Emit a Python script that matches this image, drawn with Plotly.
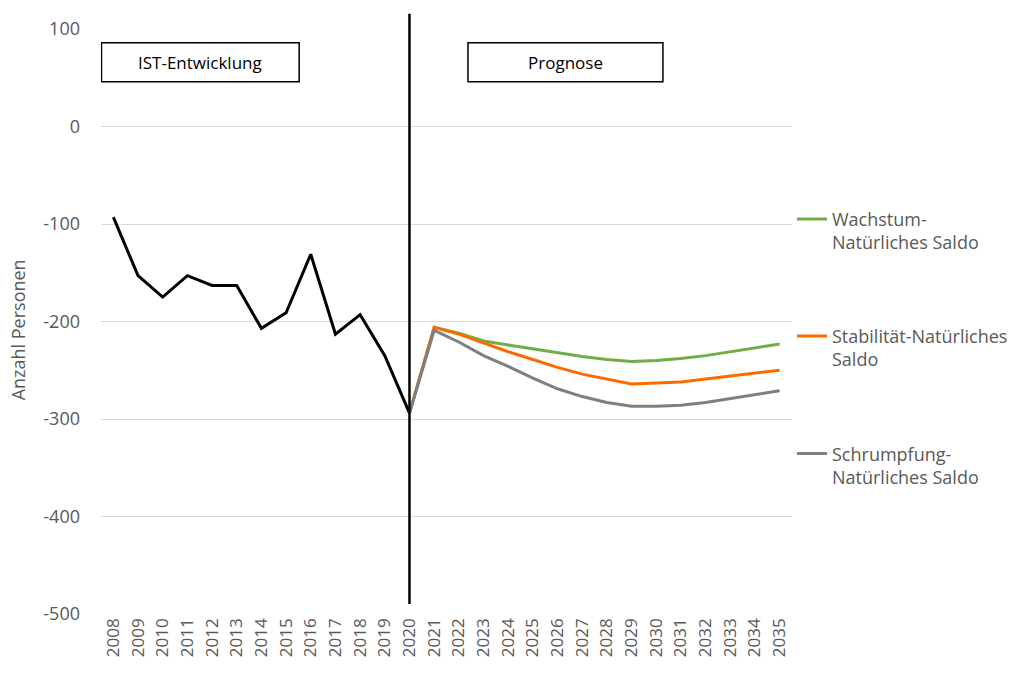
import plotly.graph_objects as go

# Historic natural balance (births minus deaths)
years_hist = [2008, 2009, 2010, 2011, 2012, 2013, 2014, 2015, 2016, 2017, 2018, 2019, 2020]
saldo_hist = [-93, -153, -175, -153, -163, -163, -207, -191, -131, -213, -193, -235, -294]

# Forecast scenarios, starting from the last observed year
years_prog = list(range(2020, 2036))
wachstum = [-294, -206, -212, -220, -224, -228, -232, -236, -239, -241, -240, -238, -235, -231, -227, -223]
stabilitaet = [-294, -206, -213, -222, -231, -239, -247, -254, -259, -264, -263, -262, -259, -256, -253, -250]
schrumpfung = [-294, -209, -221, -235, -246, -258, -269, -277, -283, -287, -287, -286, -283, -279, -275, -271]

all_years = list(range(2008, 2036))
y_ticks = [100, 0, -100, -200, -300, -400, -500]
y_ticktext = ["100", "0", "-100", "-200", "-300", "-400", "-500"]

FONT = "Open Sans"
GREY_TXT = "#595959"

fig = go.Figure()

fig.add_trace(go.Scatter(
    x=years_hist, y=saldo_hist, mode="lines",
    line=dict(color="#000000", width=3), showlegend=False, hoverinfo="skip",
))
fig.add_trace(go.Scatter(
    x=years_prog, y=wachstum, mode="lines", name="Wachstum-<br>Natürliches Saldo",
    line=dict(color="#70AD47", width=3), legend="legend",
))
fig.add_trace(go.Scatter(
    x=years_prog, y=stabilitaet, mode="lines", name="Stabilität-Natürliches<br>Saldo",
    line=dict(color="#FF6A00", width=3), legend="legend2",
))
fig.add_trace(go.Scatter(
    x=years_prog, y=schrumpfung, mode="lines", name="Schrumpfung-<br>Natürliches Saldo",
    line=dict(color="#7F7F7F", width=3), legend="legend3",
))

# Divider between observed and forecast period
fig.add_shape(type="line", xref="x", yref="paper", x0=2020, x1=2020, y0=0.017, y1=1.026,
              line=dict(color="#000000", width=2.5))

# Section labels
def label_box(x0, x1, text):
    fig.add_shape(type="rect", xref="x", yref="y", x0=x0, x1=x1, y0=46, y1=86,
                  line=dict(color="#000000", width=1.5), fillcolor="#FFFFFF")
    fig.add_annotation(x=(x0 + x1) / 2, y=66, xref="x", yref="y", text=text, showarrow=False,
                       font=dict(family=FONT, size=17, color="#000000"))

label_box(2007.52, 2015.53, "IST-Entwicklung")
label_box(2022.37, 2030.27, "Prognose")

# Y-axis title
fig.add_annotation(x=-0.12, y=0.485, xref="paper", yref="paper", text="Anzahl Personen",
                   textangle=-90, showarrow=False, xanchor="center", yanchor="middle",
                   font=dict(family=FONT, size=18, color=GREY_TXT))

legend_common = dict(
    xanchor="left", yanchor="middle", bgcolor="rgba(0,0,0,0)", borderwidth=0,
    font=dict(family=FONT, size=18, color=GREY_TXT), valign="top",
    itemwidth=30,
)

fig.update_layout(
    width=1030, height=675,
    margin=dict(l=101, r=238, t=29, b=61),
    paper_bgcolor="#FFFFFF", plot_bgcolor="#FFFFFF",
    font=dict(family=FONT, color=GREY_TXT),
    legend=dict(x=1.0, y=0.655, **legend_common),
    legend2=dict(x=1.0, y=0.455, **legend_common),
    legend3=dict(x=1.0, y=0.254, **legend_common),
    xaxis=dict(
        range=[2007.5, 2035.5], tickmode="array", tickvals=all_years,
        ticktext=[str(y) for y in all_years], tickangle=-90,
        tickfont=dict(family=FONT, size=17, color=GREY_TXT),
        showgrid=False, zeroline=False, showline=False, ticks="",
    ),
    yaxis=dict(
        range=[-500, 100], tickmode="array", tickvals=y_ticks, ticktext=y_ticktext,
        tickfont=dict(family=FONT, size=18, color=GREY_TXT),
        showgrid=True, gridcolor="#D9D9D9", gridwidth=1, zeroline=False,
        showline=False, ticks="", ticklabelstandoff=20,
    ),
)

fig.write_html("out.html")
